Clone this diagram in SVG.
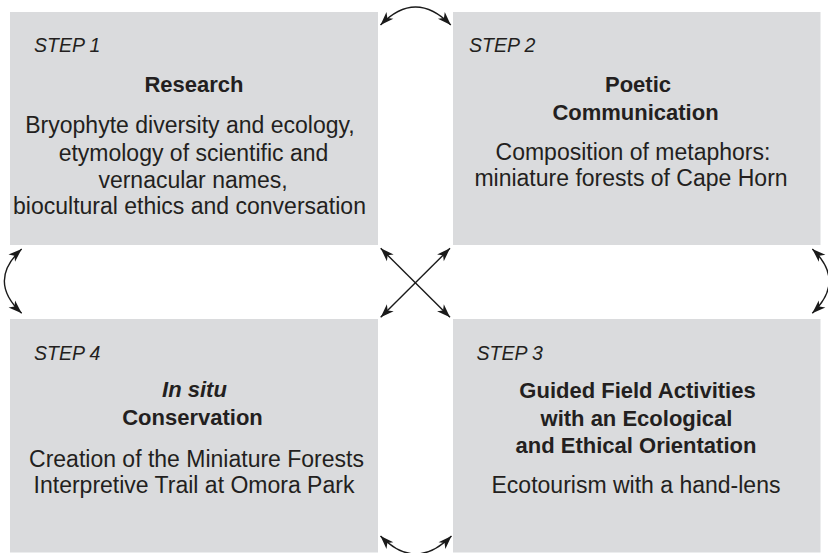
<svg xmlns="http://www.w3.org/2000/svg" width="828" height="553" viewBox="0 0 828 553">
  <defs>
    <style>
      .box { fill: #dadbdd; }
      text { font-family: "Liberation Sans", Arial, sans-serif; fill: #231f20; }
      .step { font-size: 19.5px; font-style: italic; }
      .title { font-size: 22px; font-weight: bold; text-anchor: middle; }
      .body { font-size: 23px; text-anchor: middle; }
      .link { fill: none; stroke: #1a1a1a; stroke-width: 1.4; marker-start: url(#head); marker-end: url(#head); }
    </style>
    <marker id="head" markerUnits="userSpaceOnUse" orient="auto-start-reverse" refX="0" refY="0" markerWidth="16" markerHeight="12" overflow="visible">
      <path d="M0,0 L-13.5,-4.8 L-9.8,0 L-13.5,4.8 Z" fill="#1a1a1a"/>
    </marker>
  </defs>

  <rect width="828" height="553" fill="#ffffff"/>

  <g id="step1">
    <rect class="box" x="10" y="12" width="368" height="233"/>
    <text class="step" x="34" y="52">STEP 1</text>
    <text class="title" x="194" y="92">Research</text>
    <text class="body" x="190" y="133">Bryophyte diversity and ecology,</text>
    <text class="body" x="193.5" y="160.5">etymology of scientific and</text>
    <text class="body" x="193" y="187.5">vernacular names,</text>
    <text class="body" x="189.5" y="214">biocultural ethics and conversation</text>
  </g>

  <g id="step2">
    <rect class="box" x="453" y="12" width="367.5" height="233"/>
    <text class="step" x="469" y="52">STEP 2</text>
    <text class="title" x="638" y="91.5">Poetic</text>
    <text class="title" x="635.5" y="119.5">Communication</text>
    <text class="body" x="633" y="160">Composition of metaphors:</text>
    <text class="body" x="631" y="186">miniature forests of Cape Horn</text>
  </g>

  <g id="step3">
    <rect class="box" x="453" y="319" width="367.5" height="233.5"/>
    <text class="step" x="476.5" y="359.5">STEP 3</text>
    <text class="title" x="637.5" y="398">Guided Field Activities</text>
    <text class="title" x="636.5" y="425.5">with an Ecological</text>
    <text class="title" x="636" y="452.5">and Ethical Orientation</text>
    <text class="body" x="636" y="492.5">Ecotourism with a hand-lens</text>
  </g>

  <g id="step4">
    <rect class="box" x="10" y="319" width="368" height="233.5"/>
    <text class="step" x="34" y="360">STEP 4</text>
    <text class="title" x="194.5" y="397"><tspan font-style="italic">In situ</tspan></text>
    <text class="title" x="192.5" y="424.5">Conservation</text>
    <text class="body" x="196.5" y="466.5">Creation of the Miniature Forests</text>
    <text class="body" x="194" y="492.5">Interpretive Trail at Omora Park</text>
  </g>

  <g id="connectors">
    <!-- arcs between neighbouring steps -->
    <path class="link" d="M380.5,25 Q415.5,-11 450.8,25"/>
    <path class="link" d="M380.5,536 Q415.5,572 451.5,536"/>
    <path class="link" d="M21.7,249 Q-13,281 21.7,313.3"/>
    <path class="link" d="M812.3,249 Q846,281 812.3,313.3"/>
    <!-- diagonals between opposite steps -->
    <path class="link" d="M380.7,248.3 L450,317.3"/>
    <path class="link" d="M450,248.3 L380.7,317.3"/>
  </g>
</svg>
